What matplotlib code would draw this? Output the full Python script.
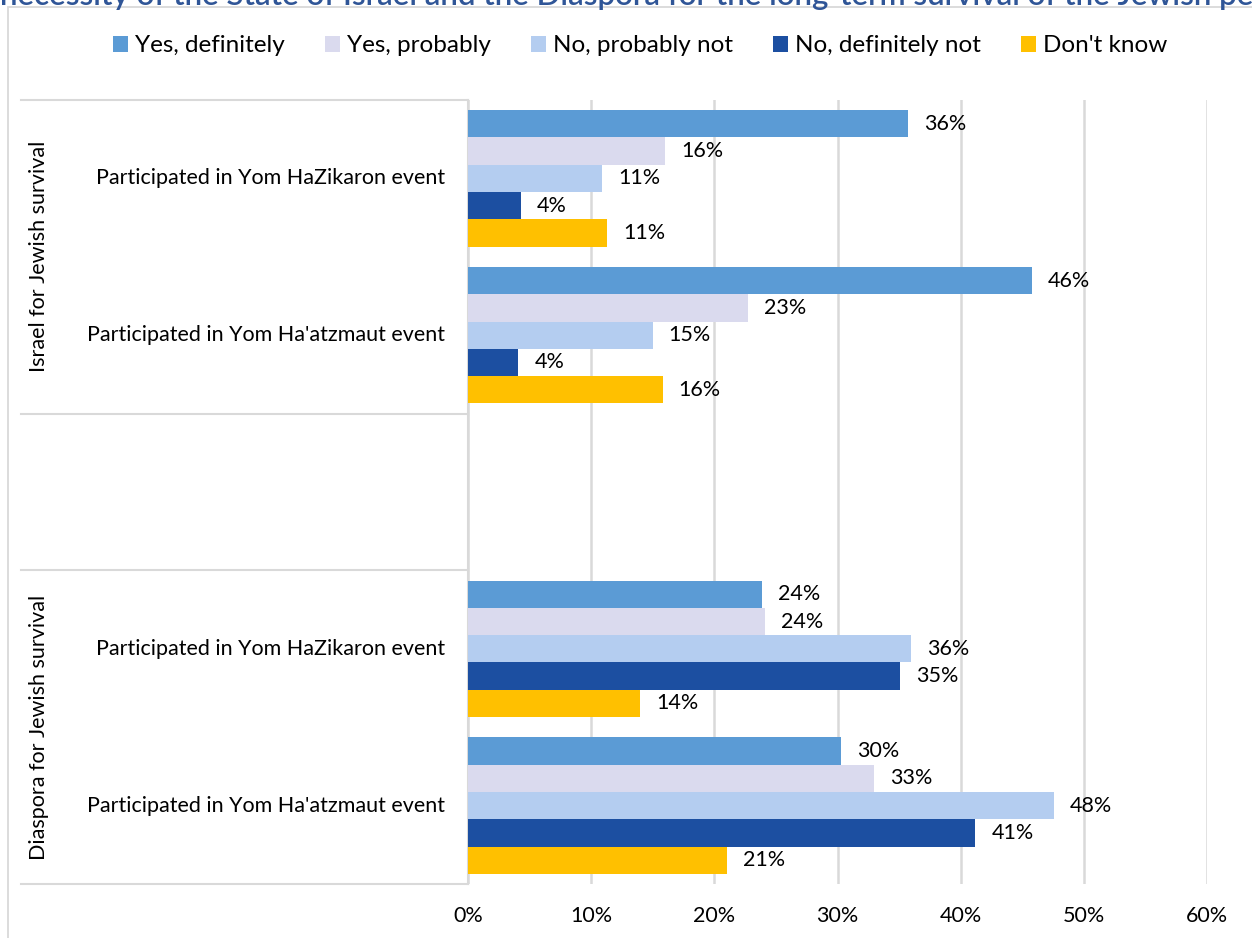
"""
plot.py
-------
Grouped horizontal bars: views on the necessity of Israel and the Diaspora
for Jewish survival, split by event participation.

Output:
    out.png
"""

import numpy as np
import matplotlib.pyplot as plt
from matplotlib.patches import Patch, Rectangle
from matplotlib.lines import Line2D
from matplotlib.ticker import PercentFormatter

# ── Data ──
groups     = ["Israel for Jewish survival", "Diaspora for Jewish survival"]
categories = ["Participated in Yom HaZikaron event",
              "Participated in Yom Ha'atzmaut event"]
series     = ["Yes, definitely", "Yes, probably", "No, probably not",
              "No, definitely not", "Don't know"]

# order: Israel/HaZikaron, Israel/Ha'atzmaut, Diaspora/HaZikaron, Diaspora/Ha'atzmaut
yes_definitely = [0.357, 0.458, 0.239, 0.303]
yes_probably   = [0.160, 0.227, 0.241, 0.330]
no_probably    = [0.109, 0.150, 0.360, 0.476]
no_definitely  = [0.043, 0.041, 0.351, 0.412]
dont_know      = [0.113, 0.158, 0.140, 0.210]

x_ticks = [0, 0.1, 0.2, 0.3, 0.4, 0.5, 0.6]

title = ("necessity of the State of Israel and the Diaspora for the "
         "long-term survival of the Jewish people")

colors = ["#5B9BD5", "#DADAEE", "#B4CDF0", "#1C4FA1", "#FFC000"]
grid_c = "#D9D9D9"
fs = 15.5

plt.rcParams["font.family"] = ["Lato", "DejaVu Sans"]

W, H = 1252, 938
fig = plt.figure(figsize=(W / 100, H / 100), dpi=100)

# ── Chart border + clipped title (the title is cut off in the original too) ──
fig.add_artist(Rectangle((8 / W, -0.1), 2, 1 - 7.5 / H + 0.1,
                         transform=fig.transFigure, fill=False,
                         edgecolor=grid_c, lw=1.3))
fig.text(0, 1 - 4.5 / H, title, ha="left", va="baseline",
         fontsize=22.5, color="#2F5597", fontweight="semibold")

# ── Axes ──
ax_l, ax_r, ax_t, ax_b = 468, 1207, 100, 884
ax = fig.add_axes([ax_l / W, 1 - ax_b / H, (ax_r - ax_l) / W, (ax_b - ax_t) / H])

values = np.array([yes_definitely, yes_probably, no_probably,
                   no_definitely, dont_know])
n_series = len(series)
bar_h = 0.174

# slot positions: 2 categories per group, one blank slot between groups
rows = []
for g in range(len(groups)):
    for c in range(len(categories)):
        rows.append(g * (len(categories) + 1) + c + 0.5)
rows = np.array(rows)
n_slots = len(groups) * (len(categories) + 1) - 1

for j in range(n_series):
    y = rows + (j - (n_series - 1) / 2) * bar_h
    ax.barh(y, values[j], height=bar_h, color=colors[j], zorder=3)
    for yy, v in zip(y, values[j]):
        ax.annotate(f"{v * 100:.0f}%", (v, yy), xytext=(11.5, 0),
                    textcoords="offset points", va="center", ha="left",
                    fontsize=fs, color="#000000")

ax.set_xlim(0, 0.6)
ax.set_ylim(n_slots, 0)
ax.set_xticks(x_ticks)
ax.xaxis.set_major_formatter(PercentFormatter(1.0, decimals=0))
ax.tick_params(axis="x", length=0, pad=16, labelsize=fs, labelcolor="#000000")
ax.set_yticks([])
ax.grid(axis="x", color=grid_c, lw=1.8, zorder=0)

for s in ["top", "right", "bottom"]:
    ax.spines[s].set_visible(False)
ax.spines["left"].set_color(grid_c)
ax.spines["left"].set_linewidth(1.5)

# ── Multi-level category labels ──
yt = ax.get_yaxis_transform()
x_left = (21 - ax_l) / (ax_r - ax_l)
for g, name in enumerate(groups):
    top = g * (len(categories) + 1)
    bot = top + len(categories)
    for yy in (top, bot):
        ax.add_line(Line2D([x_left, 0], [yy, yy], transform=yt, color=grid_c,
                           lw=1.5, clip_on=False))
    ax.text((38.5 - ax_l) / (ax_r - ax_l), (top + bot) / 2, name,
            transform=yt, rotation=90, ha="center", va="center", fontsize=fs)
    for c, cat in enumerate(categories):
        ax.text((445 - ax_l) / (ax_r - ax_l), top + c + 0.5, cat,
                transform=yt, ha="right", va="center", fontsize=fs)

# ── Legend ──
handles = [Patch(facecolor=colors[j], edgecolor="none") for j in range(n_series)]
fig.legend(handles, series, loc="center", bbox_to_anchor=(640 / W, 1 - 46 / H),
           ncol=n_series, frameon=False, fontsize=17.5, handlelength=0.62,
           handleheight=0.62, handletextpad=0.29, columnspacing=1.65)

fig.savefig("out.png", dpi=100)
